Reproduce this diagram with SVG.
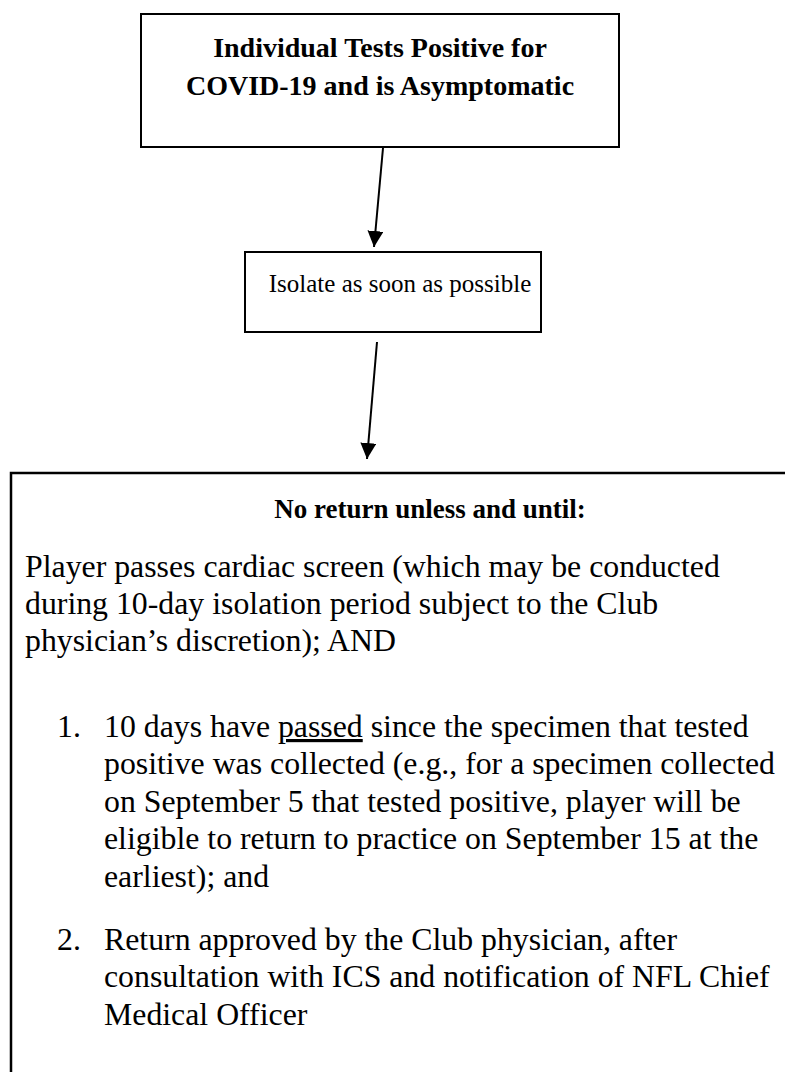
<svg xmlns="http://www.w3.org/2000/svg" width="785" height="1072" viewBox="0 0 785 1072">
<defs>
<style>
.box{fill:#fff;stroke:#000;stroke-width:2}
.t{font-family:"Liberation Serif","Times New Roman",serif;fill:#000}
.b{font-weight:bold;font-size:28px}
.m{font-size:25px}
.p{font-size:31.8px}
.c{stroke:#000;stroke-width:2;fill:none}
.u{text-decoration:underline}
</style>
<marker id="ah" markerWidth="16" markerHeight="16" refX="16" refY="8" orient="auto" markerUnits="userSpaceOnUse">
<path d="M0,0 L16,8 L0,16 Z" fill="#000"/>
</marker>
</defs>
<rect width="785" height="1072" fill="#fff"/>
<g id="node-positive">
<rect class="box" x="141" y="14" width="478" height="133"/>
<text class="t b" x="380" y="57" text-anchor="middle">Individual Tests Positive for</text>
<text class="t b" x="380" y="95" text-anchor="middle">COVID-19 and is Asymptomatic</text>
</g>
<g id="node-isolate">
<rect class="box" x="245" y="252" width="296" height="80"/>
<text class="t m" x="400" y="292" text-anchor="middle">Isolate as soon as possible</text>
</g>
<g id="node-return">
<path d="M11,1073 L11,473 L786,473" class="box" style="stroke-width:2.5;fill:none"/>
<text class="t b" x="430" y="518" text-anchor="middle" style="font-size:27px">No return unless and until:</text>
<text class="t p" x="25" y="577">Player passes cardiac screen (which may be conducted</text>
<text class="t p" x="25" y="614">during 10-day isolation period subject to the Club</text>
<text class="t p" x="25" y="651">physician’s discretion); AND</text>
<text class="t p" x="57" y="737">1.</text>
<text class="t p" x="104" y="737">10 days have <tspan class="u">passed</tspan> since the specimen that tested</text>
<text class="t p" x="104" y="774">positive was collected (e.g., for a specimen collected</text>
<text class="t p" x="104" y="812">on September 5 that tested positive, player will be</text>
<text class="t p" x="104" y="849">eligible to return to practice on September 15 at the</text>
<text class="t p" x="104" y="887">earliest); and</text>
<text class="t p" x="57" y="950">2.</text>
<text class="t p" x="104" y="950">Return approved by the Club physician, after</text>
<text class="t p" x="104" y="987">consultation with ICS and notification of NFL Chief</text>
<text class="t p" x="104" y="1025">Medical Officer</text>
</g>
<g id="connectors">
<line class="c" x1="383" y1="148" x2="374" y2="247" marker-end="url(#ah)"/>
<line class="c" x1="377" y1="342" x2="367" y2="459" marker-end="url(#ah)"/>
</g>
</svg>
